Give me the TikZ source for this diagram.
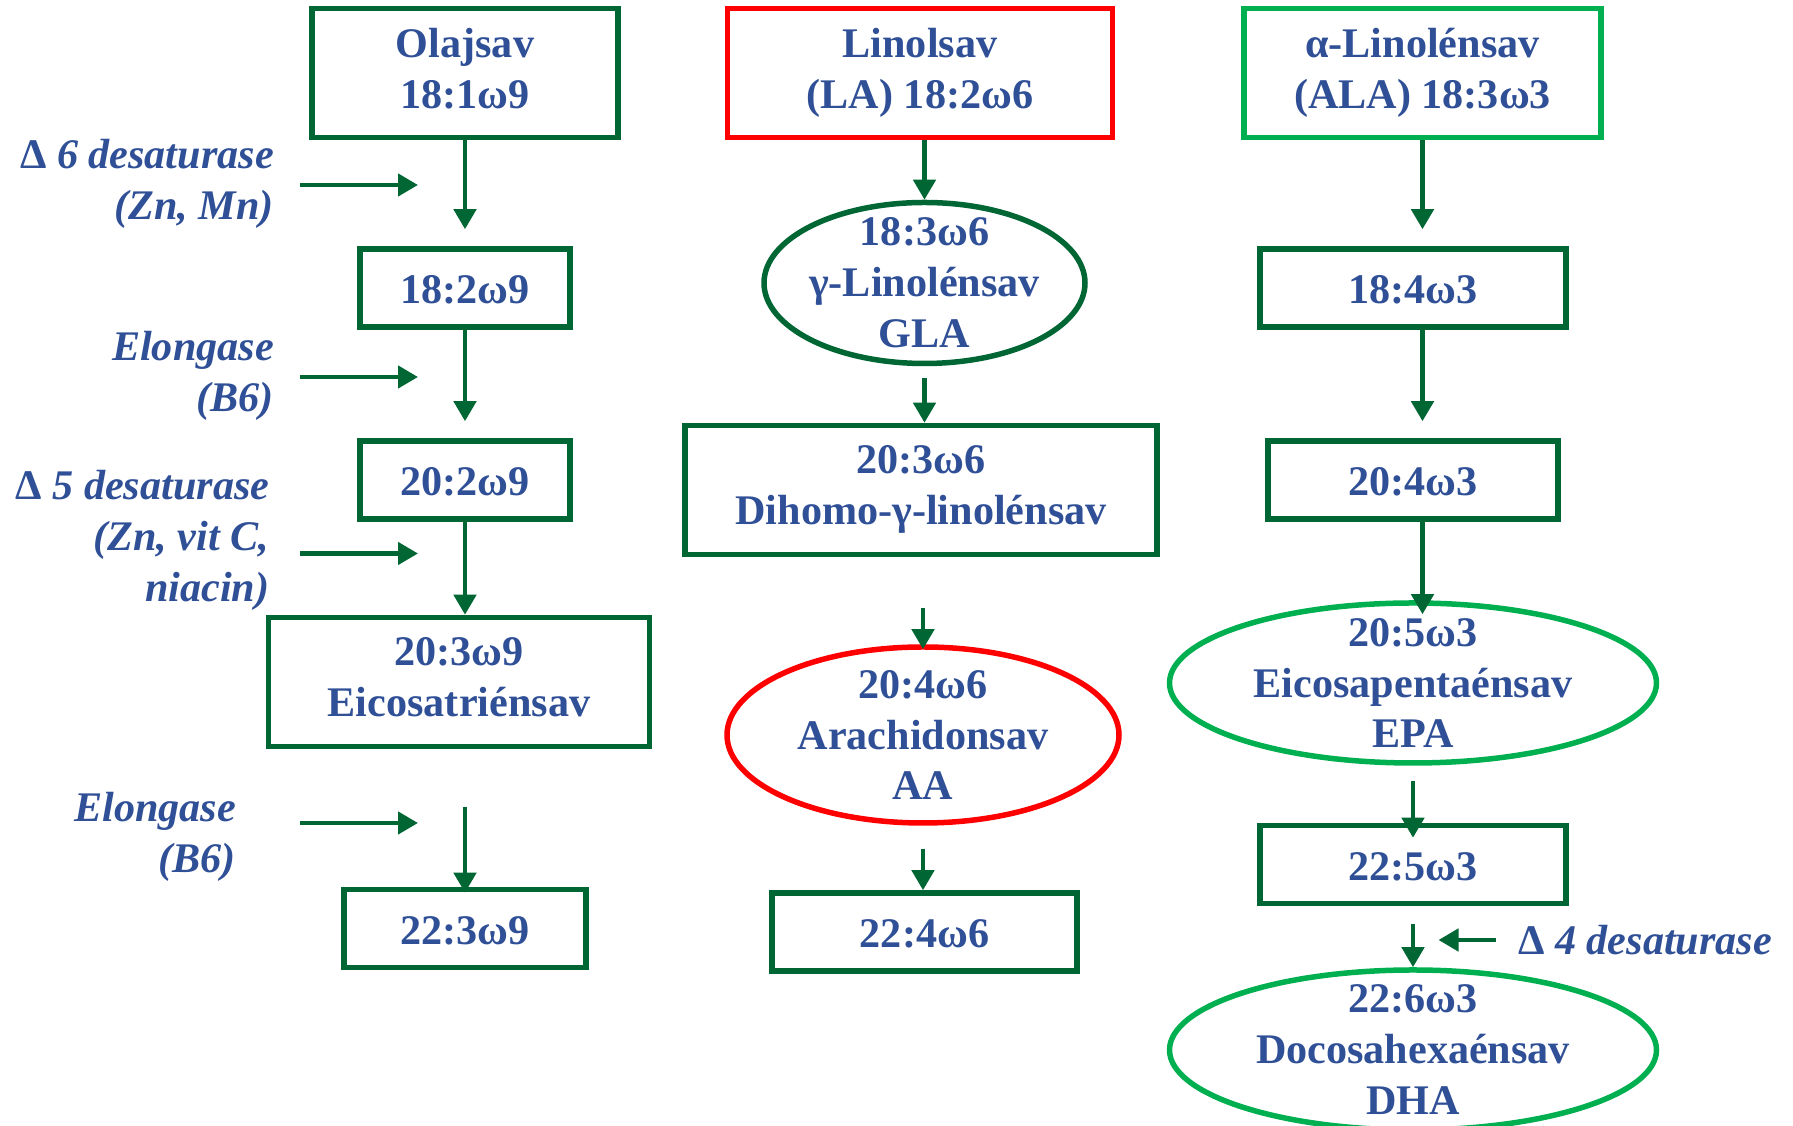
\documentclass[tikz,border=0pt]{standalone}
\usepackage{fontspec}
\setmainfont{Liberation Serif}
\usetikzlibrary{arrows.meta,shapes.geometric}
\definecolor{fadark}{HTML}{006633}
\definecolor{fared}{HTML}{FF0000}
\definecolor{falight}{HTML}{00B050}
\definecolor{fablue}{HTML}{2F4F96}
\newcommand{\acidstrut}{\rule[-2.75pt]{0pt}{14.5pt}}

\begin{document}
\begin{tikzpicture}[x=0.1mm,y=-0.1mm,
    every node/.style={font=\fontsize{12}{14.5}\selectfont\bfseries,
      text=fablue, align=center},
    acid/.style={draw=#1, line width=0.55mm, minimum height=7.8mm, inner sep=0pt,
      execute at begin node=\acidstrut, execute at end node=\acidstrut},
    acid/.default=fadark,
    oval/.style={ellipse, draw=#1, line width=0.55mm, inner sep=0pt},
    enzyme/.style={font=\fontsize{12}{14.5}\selectfont\bfseries\itshape,
      align=right, inner sep=0pt},
    flow/.style={draw=fadark, line width=0.45mm,
      -{Triangle[length=2mm,width=2.2mm]}}]
  \useasboundingbox (0,0) rectangle (1793,1126);
  \clip (0,0) rectangle (1793,1126);
  % omega-9 column
  \node[acid, minimum width=30.6mm, minimum height=12.9mm] (olaj) at (465,73) {Olajsav\\18:1ω9};
  \node[acid, minimum width=21mm] (c182) at (465,288) {18:2ω9};
  \node[acid, minimum width=21mm] (c202) at (465,480) {20:2ω9};
  \node[acid, minimum width=38.1mm, minimum height=12.9mm] (c203) at (459,682) {20:3ω9\\Eicosatriénsav};
  \node[acid, minimum width=24.2mm] (c223) at (465,928.5) {22:3ω9};
  % omega-6 column
  \node[acid=fared, minimum width=38.5mm, minimum height=12.9mm] (lino) at (920,73) {Linolsav\\(LA) 18:2ω6};
  \node[oval=fadark, minimum width=32.1mm, minimum height=16.1mm,
    label={center:{18:3ω6\\γ-Linolénsav\\GLA}}] (gla) at (924.5,283) {};
  \node[acid, minimum width=47.2mm, minimum height=12.9mm] (dgla) at (921,490) {20:3ω6\\Dihomo-γ-linolénsav};
  \node[oval=fared, minimum width=39.2mm, minimum height=17.6mm,
    label={center:{20:4ω6\\Arachidonsav\\AA}}] (aa) at (923,735) {};
  \node[acid, minimum width=30.5mm] (c224) at (924.5,932) {22:4ω6};
  % omega-3 column
  \node[acid=falight, minimum width=35.7mm, minimum height=12.9mm] (ala) at (1422.5,73) {α-Linolénsav\\(ALA) 18:3ω3};
  \node[acid, minimum width=30.6mm] (c184) at (1413,288) {18:4ω3};
  \node[acid, minimum width=29mm] (c204) at (1413,480) {20:4ω3};
  \node[oval=falight, minimum width=48.7mm, minimum height=16mm,
    label={center:{20:5ω3\\Eicosapentaénsav\\EPA}}] (epa) at (1413,683) {};
  \node[acid, minimum width=30.6mm] (c225) at (1413,864.5) {22:5ω3};
  \node[oval=falight, minimum width=48.7mm, minimum height=16mm,
    label={center:{22:6ω3\\Docosahexaénsav\\DHA}}] (dha) at (1413,1050) {};
  % enzymes
  \node[enzyme, anchor=east] (d6) at (274.5,184) {{\upshape Δ} 6 desaturase\\(Zn, Mn)};
  \node[enzyme, anchor=east] (el1) at (274.5,376) {Elongase\\(B6)};
  \node[enzyme, anchor=east] (d5) at (270,540) {{\upshape Δ} 5 desaturase\\(Zn, vit C,\\niacin)};
  \node[enzyme, anchor=east] (el2) at (236.7,836.5) {Elongase\\(B6)};
  \node[enzyme, anchor=west] (d4) at (1517.5,940) {{\upshape Δ} 4 desaturase};
  \coordinate (d6from) at (300,185);   \coordinate (d6to) at (418,185);
  \coordinate (el1from) at (300,377);  \coordinate (el1to) at (418,377);
  \coordinate (d5from) at (300,553.5); \coordinate (d5to) at (418,553.5);
  \coordinate (el2from) at (300,823);  \coordinate (el2to) at (418,823);
  \coordinate (d4from) at (1496,940);  \coordinate (d4to) at (1438.5,940);
  \foreach \e in {d6,el1,d5,el2,d4}
    \draw[flow] (\e from) -- (\e to);
  % pathway arrows
  \draw[flow, shorten >=1.7mm] (olaj) -- (c182);
  \draw[flow, shorten >=1.7mm] (c182) -- (c202);
  \draw[flow] (c202) -- (c202 |- c203.north);
  \draw[flow, shorten <=5.75mm, shorten >=-0.6mm] (c203.south -| c223) -- (c223.north);
  \draw[flow] (lino.south -| gla) -- (gla.north);
  \draw[flow, shorten <=1.2mm] (gla) -- (gla |- dgla.north);
  \draw[flow, shorten <=5.1mm, shorten >=-0.5mm] (dgla.south -| aa) -- (aa.north);
  \draw[flow, shorten <=2.3mm] (aa) -- (aa |- c224.north);
  \draw[flow, shorten >=1.7mm] (ala) -- (ala |- c184.north);
  \draw[flow, shorten >=1.7mm] (c184.south -| ala) -- (ala |- c204.north);
  \draw[flow, shorten >=-1.4mm] (c204.south -| ala) -- (ala |- epa.north);
  \draw[flow, shorten <=1.5mm, shorten >=-1.5mm] (epa) -- (c225);
  \draw[flow, shorten <=1.8mm] (c225) -- (dha);
\end{tikzpicture}
\end{document}
